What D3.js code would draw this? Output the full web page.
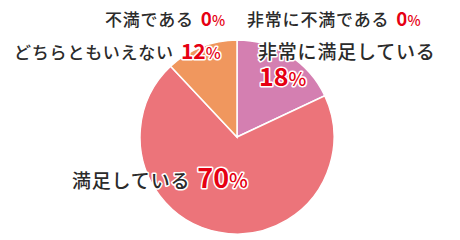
<!DOCTYPE html>
<html>
<head>
<meta charset="utf-8">
<script src="https://cdn.jsdelivr.net/npm/d3@7"></script>
<style>
  body { margin: 0; background: #fff; }
  text { font-family: "Noto Sans CJK JP", "Noto Sans", sans-serif; paint-order: stroke; stroke: #fff; stroke-linejoin: round; }
  .lbl { fill: #2b2b2b; font-size: 17px; font-weight: 500; stroke-width: 3px; letter-spacing: 0.8px; }
  .pct { fill: #e60012; font-weight: 700; stroke-width: 3px; }
</style>
</head>
<body>
<svg id="chart" width="460" height="240"></svg>
<script>
var categories = ["非常に満足している", "満足している", "どちらともいえない", "不満である", "非常に不満である"];
var values = [18, 70, 12, 0, 0];
var colors = ["#d47fb1", "#ec747a", "#f0975e", "#f0975e", "#d47fb1"];

// where each label sits (layout only)
var labelLayout = [
    { x: 258, y: 59, size: 19, pctSize: 25, below: true },
    { x: 72, y: 188, size: 19, pctSize: 27 },
    { x: 14, y: 59, size: 17, pctSize: 21 },
    { x: 105, y: 26, size: 17, pctSize: 19 },
    { x: 247, y: 26, size: 17, pctSize: 19 }
];

var svg = d3.select("#chart");
var cx = 237, cy = 137, radius = 97;

var pie = d3.pie().sort(null).value(function (d) { return d; });
var arc = d3.arc().innerRadius(0).outerRadius(radius);

svg.append("g")
    .attr("transform", "translate(" + cx + "," + cy + ")")
    .selectAll("path")
    .data(pie(values).filter(function (d) { return d.data > 0; }))
    .join("path")
    .attr("d", arc)
    .attr("fill", function (d) { return colors[d.index]; })
    .attr("stroke", "#fff")
    .attr("stroke-width", 1.5);

categories.forEach(function (name, i) {
    var pos = labelLayout[i];
    var t = svg.append("text")
        .attr("class", "lbl")
        .attr("x", pos.x)
        .attr("y", pos.y)
        .style("font-size", pos.size + "px")
        .text(name);

    var p;
    if (pos.below) {
        p = svg.append("text").attr("class", "pct").attr("x", pos.x + 1).attr("y", pos.y + 27);
    } else {
        var w = t.node().getComputedTextLength();
        p = svg.append("text").attr("class", "pct").attr("x", pos.x + w + 7).attr("y", pos.y);
    }
    p.append("tspan").style("font-size", pos.pctSize + "px").text(values[i]);
    p.append("tspan").style("font-size", Math.round(pos.pctSize * 0.75) + "px").style("font-weight", 500).text("%");
});
</script>
</body>
</html>
